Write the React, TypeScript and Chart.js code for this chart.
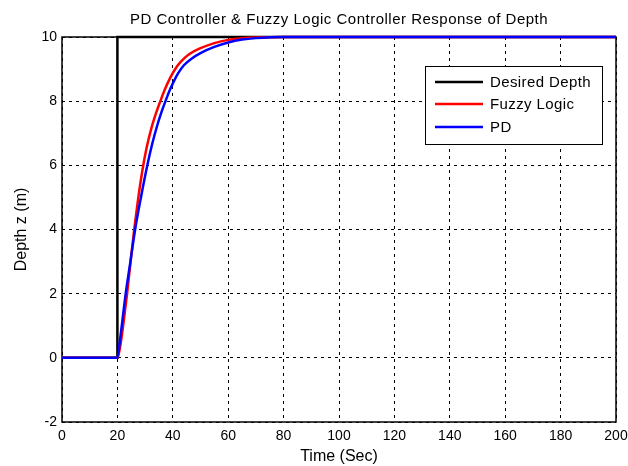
import React, { useEffect, useRef } from "react";
import { Chart, registerables } from "chart.js";

Chart.register(...registerables);

const chartTitle = "PD Controller & Fuzzy Logic Controller Response of Depth";
const xTitle = "Time (Sec)";
const yTitle = "Depth z (m)";

const desiredT = [0, 20, 20, 200];
const desiredZ = [0, 0, 10, 10];

const fuzzyT = [0, 20, 21, 22, 23.5, 24.7, 26, 27.4, 29, 30.5, 32.3, 34, 35.5, 37, 39, 41, 43, 46, 50, 55, 60, 65, 70, 80, 200];
const fuzzyZ = [0, 0, 0.35, 0.95, 2.0, 2.95, 3.95, 4.9, 5.83, 6.53, 7.17, 7.64, 8.0, 8.34, 8.72, 9.02, 9.24, 9.47, 9.65, 9.81, 9.91, 9.96, 9.985, 10, 10];

const pdT = [0, 20, 21, 22, 23, 24.7, 26.4, 28.5, 30.8, 32.6, 34.4, 36, 37.7, 39, 40.5, 42, 44, 47, 50, 55, 60, 65, 70, 80, 200];
const pdZ = [0, 0, 0.6, 1.3, 2.0, 3.0, 4.0, 5.0, 6.0, 6.68, 7.25, 7.68, 8.08, 8.36, 8.64, 8.88, 9.12, 9.34, 9.5, 9.69, 9.83, 9.92, 9.965, 10, 10];

const seriesLabels = ["Desired Depth", "Fuzzy Logic", "PD"];
const seriesColors = ["#000000", "#ff0000", "#0000ff"];

const xMin = 0, xMax = 200, xStep = 20;
const yMin = -2, yMax = 10, yStep = 2;

const FONT = "'Liberation Sans', Arial, Helvetica, sans-serif";

const pts = (t: number[], z: number[]) => t.map((v, i) => ({ x: v, y: z[i] }));

const framePlugin = {
  id: "frame",
  beforeDatasetsDraw(chart: any) {
    const { ctx, chartArea: a } = chart;
    ctx.save();
    ctx.setLineDash([]);
    ctx.strokeStyle = "#000";
    ctx.lineWidth = 1.5;
    ctx.strokeRect(a.left, a.top, a.right - a.left, a.bottom - a.top);
    ctx.restore();
  },
  afterDraw(chart: any) {
    const { ctx, chartArea: a } = chart;
    ctx.save();
    // title
    ctx.fillStyle = "#000";
    ctx.font = `15px ${FONT}`;
    (ctx as any).letterSpacing = "0.5px";
    ctx.textAlign = "center";
    ctx.textBaseline = "middle";
    ctx.fillText(chartTitle, (a.left + a.right) / 2, 20);
    // legend
    const bx = 425, by = 66, bw = 177, bh = 78;
    ctx.fillStyle = "#fff";
    ctx.fillRect(bx, by, bw, bh);
    ctx.strokeStyle = "#000";
    ctx.lineWidth = 1;
    ctx.setLineDash([]);
    ctx.strokeRect(bx + 0.5, by + 0.5, bw, bh);
    const rows = [82, 104, 127];
    (ctx as any).letterSpacing = "0.4px";
    chart.data.datasets.forEach((ds: any, i: number) => {
      ctx.strokeStyle = ds.borderColor;
      ctx.lineWidth = 2.5;
      ctx.beginPath();
      ctx.moveTo(435, rows[i]);
      ctx.lineTo(483, rows[i]);
      ctx.stroke();
      ctx.fillStyle = "#000";
      ctx.textAlign = "left";
      ctx.font = `15px ${FONT}`;
      ctx.fillText(ds.label, 490, rows[i] + 1);
    });
    ctx.restore();
  },
};

export default function App() {
  const ref = useRef<HTMLCanvasElement>(null);
  useEffect(() => {
    if (!ref.current) return;
    const mk = (i: number, t: number[], z: number[], order: number) => ({
      label: seriesLabels[i],
      data: pts(t, z),
      borderColor: seriesColors[i],
      backgroundColor: seriesColors[i],
      borderWidth: 2.5,
      pointRadius: 0,
      fill: false,
      cubicInterpolationMode: "monotone" as const,
      clip: 6,
      order,
    });
    const chart = new Chart(ref.current, {
      type: "line",
      data: {
        datasets: [
          { ...mk(0, desiredT, desiredZ, 3), cubicInterpolationMode: "default" as const, tension: 0 },
          mk(1, fuzzyT, fuzzyZ, 2),
          mk(2, pdT, pdZ, 1),
        ],
      },
      options: {
        animation: false,
        responsive: false,
        maintainAspectRatio: false,
        layout: { padding: { left: 0, right: 12, top: 37, bottom: 0 } },
        plugins: {
          legend: { display: false },
          title: { display: false },
          tooltip: { enabled: false },
        },
        scales: {
          x: {
            type: "linear",
            min: xMin,
            max: xMax,
            ticks: {
              stepSize: xStep,
              color: "#000",
              font: { family: FONT, size: 14 },
              padding: 6,
              maxRotation: 0,
            },
            grid: { color: "#000", lineWidth: 1, drawTicks: false },
            border: { display: false, dash: [3, 4] },
            title: {
              display: true,
              text: xTitle,
              color: "#000",
              font: { family: FONT, size: 16 },
              padding: { top: 0, bottom: 0 },
            },
            afterFit(scale: any) {
              scale.height = 44;
              scale.paddingLeft = 0;
              scale.paddingRight = 0;
            },
          },
          y: {
            min: yMin,
            max: yMax,
            ticks: {
              stepSize: yStep,
              color: "#000",
              font: { family: FONT, size: 14 },
              padding: 5,
            },
            grid: { color: "#000", lineWidth: 1, drawTicks: false },
            border: { display: false, dash: [3, 4] },
            title: {
              display: true,
              text: yTitle,
              color: "#000",
              font: { family: FONT, size: 16 },
              padding: { top: 12, bottom: 0 },
            },
            afterFit(scale: any) {
              scale.width = 62;
              scale.paddingTop = 0;
              scale.paddingBottom = 0;
            },
          },
        },
      },
      plugins: [framePlugin],
    });
    return () => chart.destroy();
  }, []);
  return (
    <div style={{ position: "fixed", left: 0, top: 0, width: 628, height: 466, background: "#fff" }}>
      <canvas ref={ref} width={628} height={466} style={{ width: 628, height: 466, display: "block" }} />
    </div>
  );
}
